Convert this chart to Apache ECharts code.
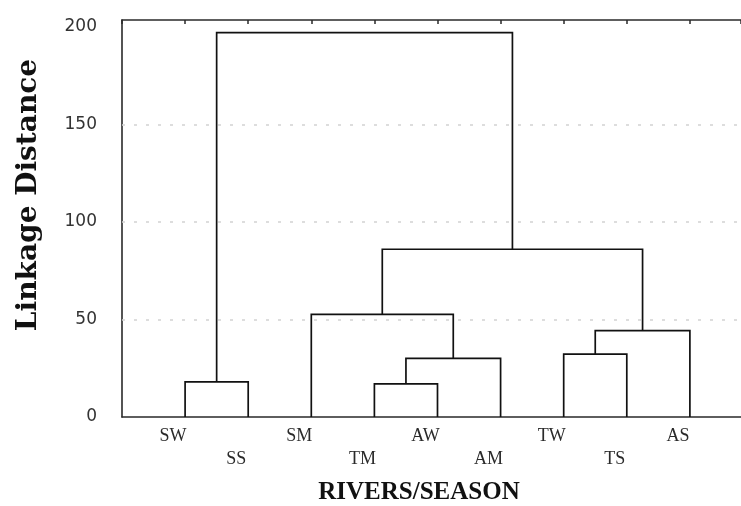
<!DOCTYPE html>
<html><head><meta charset="utf-8">
<script src="https://cdn.jsdelivr.net/npm/echarts@6/dist/echarts.min.js"></script>
<style>html,body{margin:0;padding:0;background:#fff}#c{width:741px;height:506px}</style>
</head><body><div id="c"></div><script>
// Leaves in dendrogram order
const leaves = ['SW','SS','SM','TM','AW','AM','TW','TS','AS'];
// 0 = upper label row, 1 = lower label row
const labelRow = [0,1,0,1,0,1,0,1,0];
// Merges: cluster ids 0..8 are leaves, 9.. are merges in this order
const mergeLeft   = [0, 3, 10, 6, 12, 2, 14, 9];
const mergeRight  = [1, 4, 5, 7, 8, 11, 13, 15];
const mergeHeight = [18, 17, 30, 32.2, 44.3, 52.6, 86, 197];
const yTicks = [0, 50, 100, 150, 200];
const gridValues = [50, 100, 150];

// node positions (x = leaf order, y = linkage distance)
const nodeX = leaves.map((_, i) => i + 1);
const nodeY = leaves.map(() => 0);
const links = [];
mergeLeft.forEach((l, k) => {
  const r = mergeRight[k], h = mergeHeight[k];
  links.push([nodeX[l], nodeY[l], nodeX[r], nodeY[r], h]);
  nodeX.push((nodeX[l] + nodeX[r]) / 2);
  nodeY.push(h);
});

const xMax = 9.81;
const chart = echarts.init(document.getElementById('c'), null, {renderer: 'canvas'});
chart.setOption({
  animation: false,
  backgroundColor: '#fff',
  grid: {left: 122, right: 0, top: 20, bottom: 89, containLabel: false, outerBoundsMode: 'none'},
  xAxis: [{
    type: 'value', position: 'bottom', min: 0, max: xMax, interval: 1,
    axisLine: {show: true, lineStyle: {color: '#2a2a2a', width: 1.6}},
    axisTick: {show: false},
    splitLine: {show: false},
    axisLabel: {
      show: true, margin: 8, fontFamily: 'Liberation Serif', fontSize: 18,
      color: '#2a2a2a', lineHeight: 23, padding: [0, 24, 0, 0],
      showMinLabel: true, showMaxLabel: true,
      formatter: function (v) {
        const i = Math.round(v) - 1;
        if (Math.abs(v - (i + 1)) > 1e-6 || i < 0 || i >= leaves.length) return '';
        return labelRow[i] ? '\n' + leaves[i] : leaves[i];
      }
    }
  }, {
    type: 'value', position: 'top', min: 0, max: xMax, interval: 1,
    axisLine: {show: true, lineStyle: {color: '#2a2a2a', width: 1.6}},
    axisTick: {show: true, inside: true, length: 4, lineStyle: {color: '#2a2a2a', width: 1.5}},
    splitLine: {show: false},
    axisLabel: {show: false}
  }],
  yAxis: {
    type: 'value', min: 0, max: 203.5, interval: 50,
    axisLine: {show: true, lineStyle: {color: '#2a2a2a', width: 1.6}},
    axisTick: {show: false},
    splitLine: {show: false},
    axisLabel: {
      margin: 25, fontFamily: 'DejaVu Sans', fontSize: 17, color: '#333',
      formatter: function (v) { return yTicks.indexOf(v) >= 0 ? String(v) : ''; }
    }
  },
  graphic: [{
    type: 'text', x: 29, y: 195, rotation: Math.PI / 2,
    style: {text: 'Linkage Distance', fontFamily: 'DejaVu Serif', fontWeight: 'bold',
      fontSize: 28, fill: '#111', align: 'center', verticalAlign: 'middle'}
  }, {
    type: 'text', x: 419, y: 493,
    style: {text: 'RIVERS/SEASON', fontFamily: 'Liberation Serif', fontWeight: 'bold',
      fontSize: 25, fill: '#111', align: 'center', verticalAlign: 'middle'}
  }],
  series: [{
    type: 'custom',
    coordinateSystem: 'cartesian2d',
    xAxisIndex: 0,
    data: links,
    encode: {x: [0, 2], y: [1, 3, 4]},
    renderItem: function (params, api) {
      const xl = api.value(0), yl = api.value(1), xr = api.value(2), yr = api.value(3), h = api.value(4);
      const pts = [api.coord([xl, yl]), api.coord([xl, h]), api.coord([xr, h]), api.coord([xr, yr])];
      return {type: 'polyline', shape: {points: pts},
        style: {stroke: '#111', lineWidth: 1.7, fill: null}};
    },
    markLine: {
      silent: true, symbol: 'none', label: {show: false},
      lineStyle: {color: '#d2d2d2', type: [3, 9], width: 1.5},
      data: gridValues.map(v => ({yAxis: v}))
    },
    z: 3
  }]
});
</script></body></html>
